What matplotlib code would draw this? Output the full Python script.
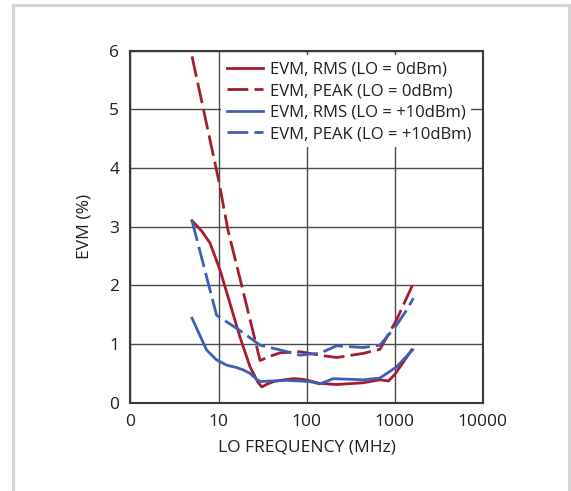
import matplotlib
matplotlib.use("Agg")
import matplotlib.pyplot as plt
from matplotlib.patches import Rectangle
from matplotlib.ticker import FixedLocator, FixedFormatter, NullLocator

plt.rcParams['font.family'] = ['Open Sans', 'DejaVu Sans']

# ---- data ----
red_rms_f = [5, 6.4, 8, 10.4, 13.5, 17.5, 22.8, 28, 31, 36, 42, 55, 71, 90, 110, 140, 220, 440, 680, 850, 1000, 1200, 1560]
red_rms_v = [3.1, 2.93, 2.72, 2.26, 1.69, 1.12, 0.61, 0.35, 0.27, 0.32, 0.36, 0.39, 0.41, 0.40, 0.37, 0.33, 0.31, 0.34, 0.39, 0.37, 0.48, 0.65, 0.90]

red_peak_f = [5, 10, 12.8, 18.3, 25, 29.6, 40, 50, 84, 141, 219, 438, 680, 1050, 1590]
red_peak_v = [5.9, 3.8, 2.94, 2.0, 1.17, 0.72, 0.80, 0.85, 0.87, 0.81, 0.77, 0.84, 0.91, 1.41, 2.0]

blue_rms_f = [5, 7.3, 9.5, 12.4, 16, 19, 22.8, 27, 30, 40, 60, 84, 109, 141, 201, 438, 680, 1050, 1600]
blue_rms_v = [1.44, 0.90, 0.73, 0.64, 0.60, 0.56, 0.50, 0.40, 0.36, 0.37, 0.38, 0.37, 0.36, 0.32, 0.41, 0.39, 0.42, 0.61, 0.90]

blue_peak_f = [5, 9.5, 17.5, 29.6, 50, 84, 109, 141, 219, 438, 680, 1050, 1370, 1630]
blue_peak_v = [3.1, 1.49, 1.23, 0.98, 0.90, 0.81, 0.83, 0.84, 0.97, 0.94, 0.98, 1.32, 1.58, 1.78]

x_ticks = [1, 10, 100, 1000, 10000]
x_tick_labels = ['0', '10', '100', '1000', '10000']
y_ticks = [0, 1, 2, 3, 4, 5, 6]
labels = ['EVM, RMS (LO = 0dBm)', 'EVM, PEAK (LO = 0dBm)',
          'EVM, RMS (LO = +10dBm)', 'EVM, PEAK (LO = +10dBm)']

RED = '#a51c30'
BLUE = '#3c5fb7'
TXT = '#1e1e1e'

fig = plt.figure(figsize=(5.71, 4.91), dpi=100)
ax = fig.add_axes([0.2285, 0.1798, 0.6169, 0.7173])

# outer light frame
fig.patches.append(Rectangle((13 / 571, -0.05), 556 / 571, 1 - 5 / 491 + 0.05,
                             transform=fig.transFigure, fill=False,
                             edgecolor='#d5d5d5', linewidth=2.2))

lw = 2.0
ax.plot(red_rms_f, red_rms_v, color=RED, lw=lw, label=labels[0], zorder=3)
ax.plot(red_peak_f, red_peak_v, color=RED, lw=lw, dashes=(7.5, 2.2), label=labels[1], zorder=3)
ax.plot(blue_rms_f, blue_rms_v, color=BLUE, lw=lw, label=labels[2], zorder=4)
ax.plot(blue_peak_f, blue_peak_v, color=BLUE, lw=lw, dashes=(7.5, 2.2), label=labels[3], zorder=4)

ax.set_xscale('log')
ax.set_xlim(1, 10000)
ax.set_ylim(0, 6)
ax.xaxis.set_major_locator(FixedLocator(x_ticks))
ax.xaxis.set_major_formatter(FixedFormatter(x_tick_labels))
ax.xaxis.set_minor_locator(NullLocator())
ax.set_yticks(y_ticks)
ax.tick_params(axis='both', length=0, labelsize=12.5, colors=TXT)
ax.tick_params(axis='x', pad=8)
ax.tick_params(axis='y', pad=8)

ax.set_axisbelow(True)
ax.grid(True, color='#4a4a4a', lw=1.0)
for s in ax.spines.values():
    s.set_color('#3a3a3a')
    s.set_linewidth(1.5)

# white legend background (covers grid)
ax.add_patch(Rectangle((0.257, 0.726), 0.71, 0.261, transform=ax.transAxes,
                       facecolor='white', edgecolor='none', zorder=1))

leg = ax.legend(loc='upper left', bbox_to_anchor=(0.273, 0.968), frameon=False,
                fontsize=12, handlelength=2.2, handletextpad=0.4,
                labelspacing=0.33, borderaxespad=0, borderpad=0)
leg.set_zorder(6)
for t in leg.get_texts():
    t.set_color(TXT)

ax.set_xlabel('LO FREQUENCY (MHz)', fontsize=12.5, color=TXT, labelpad=7)
ax.set_ylabel('EVM (%)', fontsize=12.5, color=TXT, labelpad=12)

fig.savefig('out.png', dpi=100)
